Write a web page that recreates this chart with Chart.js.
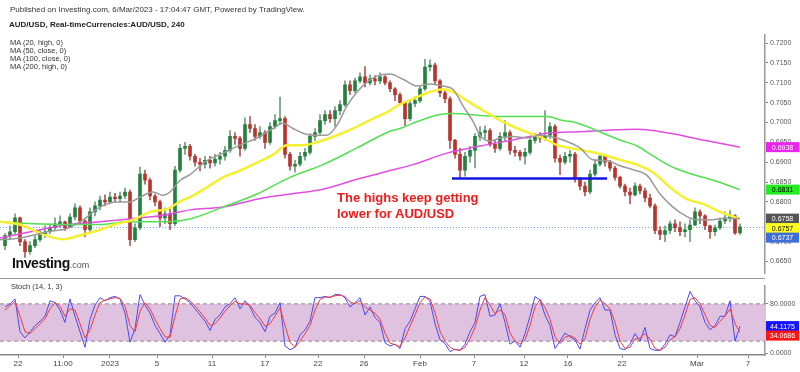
<!DOCTYPE html>
<html>
<head>
<meta charset="utf-8">
<script src="https://cdn.jsdelivr.net/npm/chart.js@4/dist/chart.umd.min.js"></script>
<style>
  body { margin:0; width:800px; height:372px; background:#fff; position:relative; overflow:hidden;
         font-family:"Liberation Sans", Arial, sans-serif; }
  canvas { position:absolute; left:0; }
  #main  { top:0; }
  #stoch { top:280px; }
  .t { position:absolute; white-space:nowrap; color:#222; }
  .sep { position:absolute; left:0; top:278px; width:765px; height:0; border-top:1.5px solid #999; }
</style>
</head>
<body>
<canvas id="main" width="800" height="280"></canvas>
<canvas id="stoch" width="800" height="92"></canvas>
<div class="sep"></div>

<div class="t" style="left:10px;top:5px;font-size:8px;line-height:10px;color:#333">Published on Investing.com, 6/Mar/2023 - 17:04:47 GMT, Powered by TradingView.</div>
<div class="t" style="left:9px;top:20px;font-size:8px;line-height:10px;font-weight:bold">AUD/USD, Real-timeCurrencies:AUD/USD, 240</div>
<div class="t" style="left:10px;top:39px;font-size:7.5px;line-height:8px;color:#333">MA (20, high, 0)<br>MA (50, close, 0)<br>MA (100, close, 0)<br>MA (200, high, 0)</div>
<div class="t" style="left:337px;top:190px;font-size:13px;line-height:16px;font-weight:bold;color:#ee1c1c">The highs keep getting<br>lower for AUD/USD</div>
<div class="t" style="left:12px;top:256px;font-size:14px;line-height:14px;font-weight:bold;color:#111;letter-spacing:-0.4px">Investing<span style="font-size:9px;font-weight:normal;color:#555;letter-spacing:0">.com</span></div>
<div class="t" style="left:11px;top:282px;font-size:7.5px;line-height:10px;color:#333">Stoch (14, 1, 3)</div>

<script>
// ---- candles (AUD/USD, 240, values in pips, one entry every ~2 bars) ----
const firstOpen = 6690;
const closes = [
  6715,6725,6760,6700,6675,6690,6705,6718,6725,6735,
  6745,6750,6735,6762,6785,6752,6730,6775,6790,6805,
  6800,6812,6808,6815,6825,6705,6735,6870,6855,6815,
  6800,6760,6770,6745,6880,6935,6940,6915,6900,6895,
  6905,6898,6908,6915,6930,6965,6960,6935,6995,6985,
  6965,6975,6950,6990,7005,7010,6920,6890,6895,6915,
  6925,6965,6975,7005,7020,7010,7030,7045,7095,7080,
  7105,7115,7100,7110,7105,7115,7100,7085,7070,7050,
  7010,7048,7055,7085,7140,7145,7105,7075,7060,6955,
  6920,6880,6915,6930,6965,6975,6980,6945,6935,6965,
  6975,6930,6925,6915,6925,6955,6965,6960,6968,6990,
  6910,6900,6915,6920,6860,6840,6825,6870,6895,6915,
  6900,6885,6862,6840,6825,6818,6840,6828,6810,6790,
  6728,6718,6728,6745,6735,6725,6730,6742,6775,6765,
  6740,6725,6735,6752,6760,6765,6722,6737];
const highs = [
  6720,6740,6770,6762,6705,6700,6715,6728,6740,6745,
  6760,6765,6752,6770,6795,6790,6755,6785,6800,6815,
  6818,6825,6822,6825,6835,6830,6745,6888,6880,6860,
  6820,6805,6785,6785,6890,6945,6950,6945,6920,6910,
  6915,6915,6920,6925,6940,6980,6975,6965,7012,7015,
  6995,6990,6980,7000,7020,7064,7015,6925,6905,6925,
  6935,6972,6985,7020,7030,7030,7040,7055,7105,7105,
  7112,7125,7141,7120,7118,7125,7118,7105,7088,7075,
  7050,7058,7065,7092,7159,7158,7150,7108,7080,7065,
  6958,6935,6925,6940,6972,6990,6992,6985,6955,6975,
  7005,6980,6940,6930,6935,6965,6972,6975,7030,7000,
  6995,6918,6925,6930,6925,6862,6850,6880,6905,6920,
  6918,6905,6890,6865,6845,6835,6848,6845,6835,6820,
  6795,6738,6740,6752,6755,6750,6745,6755,6785,6780,
  6768,6742,6742,6760,6775,6778,6768,6745];
const lows = [
  6680,6705,6720,6690,6660,6668,6685,6700,6710,6720,
  6728,6735,6728,6735,6755,6745,6712,6725,6765,6780,
  6790,6795,6800,6800,6808,6690,6700,6730,6845,6805,
  6790,6738,6745,6730,6740,6875,6920,6905,6890,6878,
  6885,6885,6890,6895,6905,6925,6945,6915,6930,6975,
  6955,6960,6935,6945,6985,6995,6910,6880,6875,6890,
  6905,6920,6955,6970,6995,7000,6990,7020,7040,7070,
  7075,7100,7090,7095,7095,7098,7095,7078,7055,7045,
  6993,7005,7040,7050,7080,7130,7098,7065,7050,6935,
  6910,6862,6865,6900,6886,6955,6960,6940,6925,6930,
  6955,6920,6915,6905,6895,6920,6948,6950,6955,6960,
  6900,6869,6895,6900,6850,6830,6815,6820,6865,6890,
  6890,6878,6855,6835,6815,6795,6815,6820,6800,6785,
  6720,6705,6700,6720,6725,6715,6712,6700,6740,6745,
  6730,6708,6715,6730,6745,6750,6718,6718];

// ---- moving averages: [bar index, pips] ----
const ma20 = [[-1,6705],[3,6709],[9,6726],[12.4,6733],[15.6,6755],[19,6787],[22.4,6800],[25,6800],[27,6812],
  [29.6,6825],[31.6,6817],[33,6825],[35,6854],[37,6869],[40.4,6904],[43.6,6923],[47,6943],[50.4,6961],
  [53.6,6985],[55.6,6998],[57.6,6985],[59.6,6973],[61.6,6968],[64.4,6968],[66.4,6993],[68.4,7042],
  [70.4,7077],[72.4,7102],[74.4,7117],[77,7122],[79.6,7109],[82.4,7092],[85,7097],[87.6,7092],[89.6,7084],
  [91.6,7042],[93.6,7003],[95,6968],[97,6953],[99,6961],[101.6,6965],[104.4,6961],[107,6968],[109,6965],
  [111.6,6956],[115,6936],[117.6,6906],[120.4,6904],[123,6891],[125.6,6881],[128.4,6867],[131,6820],
  [133.6,6787],[136.4,6763],[138.4,6755],[141,6755],[143.6,6758],[147,6758]];
const ma50 = [[-1,6750],[3,6743],[7,6721],[11.6,6706],[15.6,6718],[19,6730],[22.4,6745],[25.6,6755],[29,6775],
  [32.4,6782],[35.6,6805],[37,6812],[40.4,6837],[43.6,6862],[47,6879],[50.4,6899],[53.6,6919],[56.4,6943],
  [59.6,6943],[63,6953],[66.4,6968],[70.4,6990],[73.6,7010],[77,7030],[78.4,7042],[81.6,7060],[85,7077],
  [87.6,7084],[89.6,7077],[92.4,7055],[95,7035],[98.4,7010],[101.6,6990],[105,6973],[108.4,6956],
  [110.4,6943],[113,6936],[116.4,6928],[119.6,6919],[123,6906],[126.4,6894],[129.6,6874],[133,6837],
  [136.4,6807],[139.6,6795],[143,6775],[147,6757]];
const ma100 = [[-1,6750],[5.6,6745],[12.4,6743],[19,6743],[24.4,6750],[32.4,6750],[37,6757],[43.6,6787],
  [50.4,6820],[57,6862],[63.6,6894],[70.4,6936],[77,6978],[79,6985],[83,7005],[87,7020],[89.6,7023],
  [95,7018],[101.6,7015],[108.4,7015],[111.6,7005],[113,7003],[116.4,6990],[119.6,6973],[123,6956],
  [126.4,6941],[129.6,6916],[133,6891],[136.4,6874],[139.6,6862],[143,6849],[147,6831]];
const ma200 = [[-1,6709],[5.6,6726],[12.4,6743],[19,6750],[25.6,6758],[32.4,6768],[37,6780],[43.6,6787],
  [50.4,6807],[57,6820],[63.6,6832],[70.4,6857],[77,6879],[81.6,6894],[88.4,6923],[95,6941],[101.6,6956],
  [108.4,6973],[115,6977],[119.6,6980],[126.4,6983],[133,6973],[139.6,6956],[147,6938]];

// drawn support line: bar index from, to, pips
const support = [89.4, 120.4, 6859];

// ---- stochastic (14,1,3) ----
const stochK = [
  75,80,88,35,25,35,45,52,60,85,82,70,50,88,60,35,10,55,78,90,
  85,90,92,88,65,18,40,95,78,65,45,32,18,30,93,93,88,82,72,62,
  52,37,55,62,75,80,90,72,85,75,58,50,35,60,65,82,12,6,10,30,
  38,52,90,90,92,90,95,95,90,75,82,90,62,75,58,50,17,12,15,8,
  40,52,72,92,92,84,48,22,16,3,7,5,15,35,50,92,95,60,62,80,
  50,15,20,10,32,60,92,86,62,45,8,20,33,27,22,7,40,70,82,90,
  70,70,30,8,6,15,32,20,42,8,5,5,15,30,27,50,75,100,85,75,
  50,38,45,60,60,85,20,44.1175];
const stochD = [
  70,77,84,60,35,32,40,48,56,72,82,76,60,72,70,48,25,38,62,82,
  86,88,90,89,76,45,35,68,82,72,55,40,27,26,60,88,90,85,77,67,
  57,45,48,57,68,77,84,80,80,78,66,56,44,48,60,74,45,18,10,20,
  32,45,70,87,91,91,93,94,92,83,80,85,75,70,65,55,33,17,14,11,
  25,44,62,82,91,88,66,36,20,10,6,5,10,24,42,70,90,78,64,70,
  63,33,20,15,22,45,75,87,74,55,27,16,26,29,25,15,24,55,75,86,
  80,72,50,20,8,10,23,25,32,23,8,5,10,22,27,40,62,87,90,80,
  63,45,42,52,60,72,48,34.0686];
const stochBand = [20, 80];

// ---- axis labels ----
const priceTicks = [0.6650,0.6700,0.6750,0.6800,0.6850,0.6900,0.6950,0.7000,0.7050,0.7100,0.7150,0.7200];
const tickPos  = [2.6, 11.6, 21, 30.4, 41.4, 52, 62.6, 71.8, 83, 93.8, 103.8, 112.6, 123.4, 138.4, 148.6];
const tickText = ['22','11:00','2023','5','11','17','22','26','Feb','7','12','16','22','Mar','7'];

const UP = '#23803f', DOWN = '#b8342c';
const GREY = '#9a9a9a', YELLOW = '#f4f032', GREEN = '#52e052', MAGENTA = '#e24de2';

const P = v => v / 10000;
const opens = closes.map((c, i) => i === 0 ? firstOpen : closes[i - 1]);
const bodies = closes.map((c, i) => ({ x: i, y: [P(Math.min(opens[i], c)), P(Math.max(opens[i], c))] }));
const wicks  = closes.map((c, i) => ({ x: i, y: [P(lows[i]), P(highs[i])] }));
const isUp   = closes.map((c, i) => c >= opens[i]);
const maLine = (pts, color, w) => ({
  type: 'line', data: pts.map(p => ({ x: p[0], y: P(p[1]) })), borderColor: color, borderWidth: w,
  pointRadius: 0, cubicInterpolationMode: 'monotone', order: 0
});

function drawBadges(ctx, scale, items) {
  let prev = -Infinity;
  ctx.save();
  ctx.font = '7px "Liberation Sans", Arial, sans-serif';
  ctx.textAlign = 'center';
  ctx.textBaseline = 'middle';
  items.forEach(b => {
    let py = scale.getPixelForValue(b.value);
    if (py < prev + 9.5) py = prev + 9.5;
    prev = py;
    ctx.fillStyle = b.bg;
    ctx.fillRect(766, py - 5, 33, 10);
    ctx.fillStyle = b.fg;
    ctx.fillText(b.value.toFixed(4), 782.5, py + 0.5);
  });
  ctx.restore();
}

const mainPlugin = {
  id: 'mainExtras',
  beforeDatasetsDraw(chart) {
    const { ctx, chartArea: a, scales: { y } } = chart;
    const py = Math.round(y.getPixelForValue(P(closes[closes.length - 1]))) + 0.5;
    ctx.save();
    ctx.strokeStyle = '#7d9fe6';
    ctx.setLineDash([1, 2]);
    ctx.lineWidth = 1;
    ctx.beginPath(); ctx.moveTo(a.left, py); ctx.lineTo(a.right, py); ctx.stroke();
    ctx.restore();
  },
  afterDraw(chart) {
    drawBadges(chart.ctx, chart.scales.y, [
      { value: P(ma200[ma200.length - 1][1]), bg: '#ee22ee', fg: '#fff' },
      { value: P(ma100[ma100.length - 1][1]), bg: '#22ee22', fg: '#000' },
      { value: P(ma20[ma20.length - 1][1]),   bg: '#555555', fg: '#fff' },
      { value: P(ma50[ma50.length - 1][1]),   bg: '#ffff22', fg: '#000' },
      { value: P(closes[closes.length - 1]),  bg: '#3d6fd9', fg: '#fff' }
    ]);
  }
};

new Chart(document.getElementById('main'), {
  type: 'bar',
  data: {
    datasets: [
      maLine(ma20, GREY, 1.5),
      maLine(ma50, YELLOW, 2.5),
      maLine(ma100, GREEN, 1.5),
      maLine(ma200, MAGENTA, 1.5),
      { type: 'line', data: [{ x: support[0], y: P(support[2]) }, { x: support[1], y: P(support[2]) }],
        borderColor: '#1414e6', borderWidth: 2.5, pointRadius: 0, order: 0 },
      { data: wicks, backgroundColor: isUp.map(u => u ? '#6f9c7c' : '#a85a55'),
        barThickness: 1, grouped: false, order: 2 },
      { data: bodies, backgroundColor: isUp.map(u => u ? UP : DOWN),
        barThickness: 3, grouped: false, order: 1 }
    ]
  },
  options: {
    responsive: false, animation: false, devicePixelRatio: 1, events: [],
    layout: { padding: { top: 35, bottom: 2, left: 0, right: 0 } },
    plugins: { legend: { display: false }, tooltip: { enabled: false } },
    scales: {
      x: { type: 'linear', min: -1, max: 152, display: false, offset: false },
      y: {
        position: 'right', min: 0.6619, max: 0.72205,
        afterFit(s) { s.width = 35; },
        afterBuildTicks(s) { s.ticks = priceTicks.map(v => ({ value: v })); },
        ticks: { callback: v => v.toFixed(4), font: { size: 7 }, color: '#555', padding: 2 },
        grid: { drawOnChartArea: false, tickLength: 3, color: '#888' },
        border: { color: '#999', width: 1.5 }
      }
    }
  },
  plugins: [mainPlugin]
});

const stochPlugin = {
  id: 'stochExtras',
  beforeDatasetsDraw(chart) {
    const { ctx, chartArea: a, scales: { y } } = chart;
    const top = y.getPixelForValue(stochBand[1]), bot = y.getPixelForValue(stochBand[0]);
    ctx.save();
    ctx.fillStyle = '#dfc2e0';
    ctx.fillRect(a.left, top, a.right - a.left, bot - top);
    ctx.strokeStyle = '#a594a8';
    ctx.lineWidth = 1.2;
    ctx.setLineDash([4, 3]);
    [top, bot].forEach(py => { ctx.beginPath(); ctx.moveTo(a.left, py); ctx.lineTo(a.right, py); ctx.stroke(); });
    ctx.restore();
  },
  afterDraw(chart) {
    drawBadges(chart.ctx, chart.scales.y, [
      { value: stochK[stochK.length - 1], bg: '#1515ff', fg: '#fff' },
      { value: stochD[stochD.length - 1], bg: '#ff1515', fg: '#fff' }
    ]);
  }
};

new Chart(document.getElementById('stoch'), {
  type: 'line',
  data: {
    datasets: [
      { data: stochD.map((v, i) => ({ x: i, y: v })), borderColor: '#f03c3c', borderWidth: 1, pointRadius: 0 },
      { data: stochK.map((v, i) => ({ x: i, y: v })), borderColor: '#4a4af0', borderWidth: 1, pointRadius: 0 }
    ]
  },
  options: {
    responsive: false, animation: false, devicePixelRatio: 1, events: [],
    layout: { padding: { top: 1, left: 0, right: 0, bottom: 0 } },
    plugins: { legend: { display: false }, tooltip: { enabled: false } },
    scales: {
      x: {
        type: 'linear', min: -1, max: 152, offset: false,
        afterFit(s) { s.height = 17; },
        afterBuildTicks(s) { s.ticks = tickPos.map(v => ({ value: v })); },
        ticks: { autoSkip: false, maxRotation: 0, callback: (v, i) => tickText[i],
                 font: { size: 8 }, color: '#444', padding: 1 },
        grid: { drawOnChartArea: false, tickLength: 3, color: '#888' },
        border: { color: '#888', width: 1.5 }
      },
      y: {
        position: 'right', min: -2.5, max: 108.5,
        afterFit(s) { s.width = 35; },
        afterBuildTicks(s) { s.ticks = [{ value: 0 }, { value: 80 }]; },
        ticks: { callback: v => v.toFixed(4), font: { size: 7 }, color: '#555', padding: 2 },
        grid: { drawOnChartArea: false, tickLength: 3, color: '#888' },
        border: { color: '#999', width: 1.5 }
      }
    }
  },
  plugins: [stochPlugin]
});
</script>
</body>
</html>
